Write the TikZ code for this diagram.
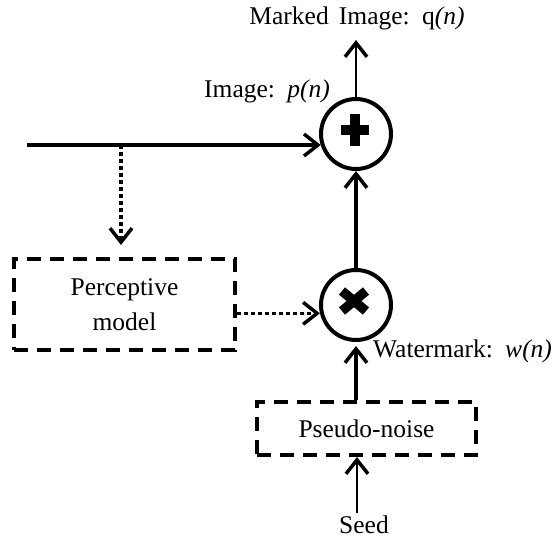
\documentclass[tikz,border=0pt]{standalone}
\usepackage{fontspec}
\setmainfont[WordSpace=1.6]{Liberation Serif}
\usetikzlibrary{arrows.meta}

\begin{document}
\begin{tikzpicture}
[
x=1pt, y=-1pt,
every node/.style={font=\fontsize{25.5}{35}\selectfont},
Sum/.style={circle, draw=black, line width=4pt, minimum size=70pt, inner sep=0pt},
Dashbox/.style={rectangle, draw=black, line width=4pt, dash pattern=on 14pt off 9pt, align=center},
Label/.style={inner sep=0pt},
Symbol/.style={draw=black, line width=9.5pt},
Thickarrow/.style={-{Straight Barb[length=14pt,width=22pt,line width=3.5pt]}, line width=3.5pt, draw=black},
Thinarrow/.style={-{Straight Barb[length=14pt,width=22pt,line width=3.5pt]}, line width=2.5pt, draw=black},
DotArrow/.style={-{Straight Barb[length=14pt,width=22pt,line width=3.5pt]}, line width=3.5pt, dash pattern=on 3.5pt off 3.5pt, draw=black},
]

\useasboundingbox (0,0) rectangle (558,541);

\node[Sum] (add) at (356,134) {};
\node[Sum] (mult) at (356,305) {};
\node[Dashbox, minimum width=221pt, minimum height=91pt] (percep) at (124.5,304.5) {Perceptive\\model};
\node[Dashbox, minimum width=219pt, minimum height=53pt] (pn) at (366.5,428.5) {Pseudo-noise};

\coordinate (in) at (27,145);
\coordinate (tap) at (121,145);
\coordinate (out) at (356,40);
\node[Label, anchor=base] (seed) at (364,533) {Seed};
\coordinate (seedtail) at (357,513);

% plus and times signs
\draw[Symbol] ([shift={(-1pt,-12pt)}]add.center) -- ([shift={(-1pt,20pt)}]add.center);
\draw[Symbol] ([shift={(-15pt,4pt)}]add.center) -- ([shift={(13pt,4pt)}]add.center);
\draw[Symbol] ([shift={(-14pt,-6pt)}]mult.center) -- ([shift={(10pt,14pt)}]mult.center);
\draw[Symbol] ([shift={(-14pt,14pt)}]mult.center) -- ([shift={(10pt,-6pt)}]mult.center);

\draw[Thickarrow] (in) -- (in -| add.198);
\draw[DotArrow, shorten >=12pt] (tap) -- (tap |- percep.north);
\draw[DotArrow] (percep.east |- mult.193) -- (mult.193);
\draw[Thickarrow] (mult.north) -- (add.south);
\draw[Thinarrow] (add.north) -- (out);
\draw[Thickarrow, shorten >=4pt] (pn.north -| mult.south) -- (mult.south);
\draw[Thinarrow] (seedtail) -- (seedtail |- pn.south);

\node[Label, anchor=base] (qlabel) at (357,24) {Marked Image: q\textit{(n)}};
\node[Label, anchor=base east] (plabel) at (330,97) {Image: \textit{p(n)}};
\node[Label, anchor=base west] (wlabel) at (373,357) {Watermark: \textit{w(n)}};

\end{tikzpicture}
\end{document}
